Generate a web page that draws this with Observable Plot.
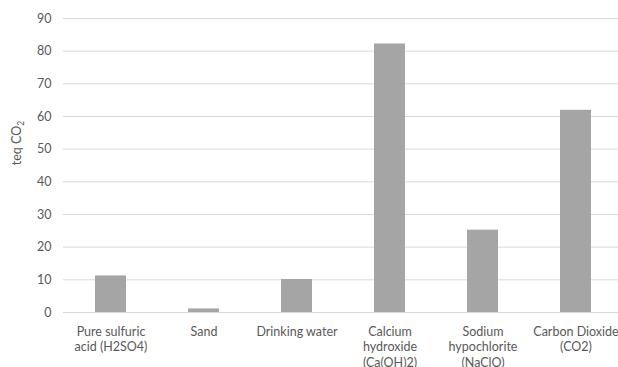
<!DOCTYPE html>
<html>
<head>
<meta charset="utf-8">
<script src="https://cdn.jsdelivr.net/npm/d3@7"></script>
<script src="https://cdn.jsdelivr.net/npm/@observablehq/plot@0.6"></script>
<style>
  html, body { margin: 0; padding: 0; background: #fff; }
  #chart svg { display: block; }
</style>
</head>
<body>
<div id="chart"></div>
<script>
// Carbon footprint of each input, in tonnes of CO2 equivalent
const categories = [
  "Pure sulfuric\nacid (H2SO4)",
  "Sand",
  "Drinking water",
  "Calcium\nhydroxide\n(Ca(OH)2)",
  "Sodium\nhypochlorite\n(NaClO)",
  "Carbon Dioxide\n(CO2)"
];
const values = [11.2, 1.1, 10.1, 82.2, 25.2, 61.9];
const yTicks = [0, 10, 20, 30, 40, 50, 60, 70, 80, 90];

const data = categories.map((category, i) => ({category, value: values[i]}));

const W = 618, H = 367;
const font = "Lato, 'Open Sans', sans-serif";

const chart = Plot.plot({
  width: W,
  height: H,
  marginTop: 18,
  marginBottom: 55,
  marginLeft: 63,
  marginRight: 0,
  style: {fontFamily: font, fontSize: "12.5px", color: "#595959", background: "#fff", overflow: "hidden"},
  x: {domain: categories, range: [63, 622], paddingInner: 0.667, paddingOuter: 0.333, axis: null},
  y: {domain: [0, 90], axis: null},
  marks: [
    Plot.ruleY(yTicks, {stroke: "#d9d9d9", strokeWidth: 1}),
    Plot.barY(data, {x: "category", y: "value", fill: "#a5a5a5"}),
    Plot.axisY(yTicks, {tickSize: 0, tickPadding: 12, fill: "#595959", fontSize: 12.5, label: null}),
    Plot.axisX({tickSize: 0, tickPadding: 12, lineHeight: 1.24, fill: "#595959", fontSize: 12.5, label: null})
  ]
});

// Rotated y-axis title with a subscript 2
const svg = d3.select(chart);
const title = svg.append("text")
  .attr("transform", "translate(21,143) rotate(-90)")
  .attr("text-anchor", "middle")
  .attr("font-family", font)
  .attr("font-size", 12.5)
  .attr("fill", "#595959");
title.append("tspan").text("teq CO");
title.append("tspan").attr("font-size", 8.5).attr("dy", 3).text("2");

document.getElementById("chart").appendChild(chart);
</script>
</body>
</html>
